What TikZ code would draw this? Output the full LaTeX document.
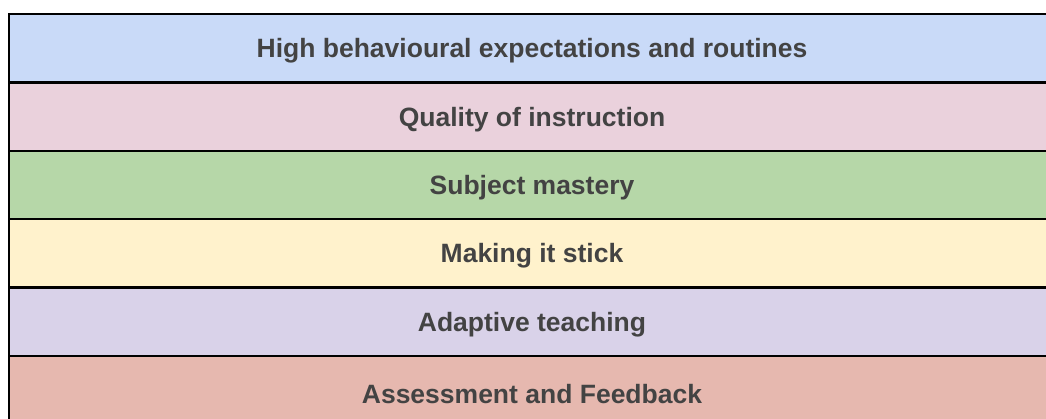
\documentclass[tikz,border=0pt]{standalone}
\usepackage{fontspec}
\setmainfont{Liberation Sans}
\definecolor{bandblue}{HTML}{C9DAF8}
\definecolor{bandpink}{HTML}{EAD1DC}
\definecolor{bandgreen}{HTML}{B6D7A8}
\definecolor{bandyellow}{HTML}{FFF2CC}
\definecolor{bandlilac}{HTML}{D9D2E9}
\definecolor{bandred}{HTML}{E6B8AF}
\definecolor{labelgrey}{HTML}{434343}

\begin{document}
\begin{tikzpicture}[x=1pt, y=1pt,
  every band/.style={draw=black, line width=2.5pt, inner sep=0pt,
    minimum width=1046pt, minimum height=68.4pt, text depth=0pt,
    text=labelgrey, font=\bfseries\fontsize{26.5}{30}\selectfont},
  band 6/.style={minimum height=75pt, yshift=-3.3pt}]

\useasboundingbox (0,0) rectangle (1046,419);
\clip (0,0) rectangle (1046,419);

\foreach \c/\l [count=\y] in {bandblue/High behavioural expectations and routines,
    bandpink/Quality of instruction, bandgreen/Subject mastery,
    bandyellow/Making it stick, bandlilac/Adaptive teaching,
    bandred/Assessment and Feedback}
  \node [every band, band \y/.try, fill=\c] (band-\y) at (532,419-14-34.2-\y*68.4+68.4) {\l};

\end{tikzpicture}
\end{document}
